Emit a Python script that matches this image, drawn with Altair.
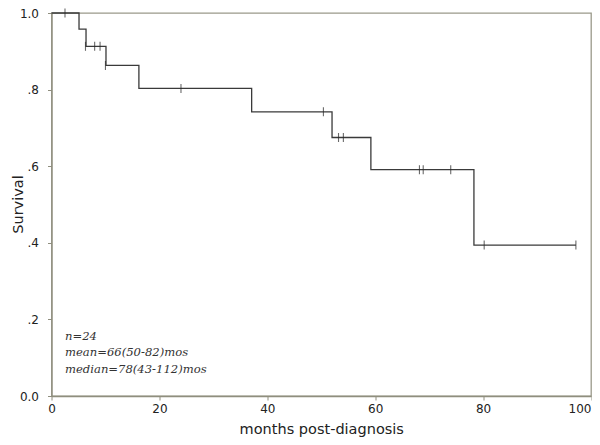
import altair as alt
import pandas as pd

# Kaplan-Meier step curve
step_time = [0, 5.1, 6.4, 10.1, 16.2, 37.1, 52.0, 59.2, 78.3, 97.2]
step_surv = [1.0, 0.958, 0.913, 0.863, 0.803, 0.742, 0.675, 0.591, 0.394, 0.394]

# Censored observations
cens_time = [2.5, 6.3, 8.0, 9.0, 10.0, 24.0, 50.4, 53.2, 54.1, 68.2, 68.9, 74.0, 80.2, 97.2]
cens_surv = [1.0, 0.913, 0.913, 0.913, 0.863, 0.803, 0.742, 0.675, 0.675, 0.591, 0.591, 0.591, 0.394, 0.394]

x_tick_values = [0, 20, 40, 60, 80, 100]
y_tick_labels = ["0.0", ".2", ".4", ".6", ".8", "1.0"]
annot_lines = ["n=24", "mean=66(50-82)mos", "median=78(43-112)mos"]
annot_y = [0.154, 0.111, 0.068]

curve_df = pd.DataFrame({"t": step_time, "s": step_surv})
cens_df = pd.DataFrame({"t": cens_time, "s": cens_surv})
annot_df = pd.DataFrame({"t": [2.5] * 3, "s": annot_y, "label": annot_lines})

label_expr = "[" + ",".join("'%s'" % l for l in y_tick_labels) + "][round(datum.value*5)]"

x_enc = alt.X("t:Q", scale=alt.Scale(domain=[0, 100], nice=False),
              axis=alt.Axis(title="months post-diagnosis", values=x_tick_values,
                            grid=False, tickSize=4, labelPadding=3,
                            labelAlign=alt.ExprRef(expr="datum.value == 100 ? 'right' : 'center'"),
                            titleY=37, titleBaseline="alphabetic",
                            labelFontSize=12, titleFontSize=14.5, titleFontWeight="normal"))
y_enc = alt.Y("s:Q", scale=alt.Scale(domain=[0, 1], nice=False),
              axis=alt.Axis(title="Survival", values=[0, 0.2, 0.4, 0.6, 0.8, 1.0],
                            labelExpr=label_expr, grid=False, tickSize=4, labelPadding=9,
                            titleX=-33, titleY=191, titleAngle=270, titleBaseline="middle",
                            titleAlign="center",
                            labelFontSize=12, titleFontSize=14.5,
                            titleFontWeight="normal"))

curve = alt.Chart(curve_df).mark_line(interpolate="step-after", color="#3a3a3a", strokeWidth=1.3).encode(
    x=x_enc, y=y_enc)

ticks = alt.Chart(cens_df).mark_tick(orient="vertical", size=9, thickness=1.1, color="#2a2a2a").encode(
    x="t:Q", y="s:Q")

annot = alt.Chart(annot_df).mark_text(align="left", baseline="middle", font="DejaVu Serif",
                                      fontStyle="italic", fontSize=11.6, color="#333333").encode(
    x="t:Q", y="s:Q", text="label:N")

chart = alt.layer(curve, ticks, annot).properties(
    width=539.5, height=383,
    autosize=alt.AutoSizeParams(type="none"),
    padding={"left": 43.5, "top": 5, "right": 1, "bottom": 41},
).configure_view(
    stroke="#9a998a", strokeWidth=1.3
).configure_axis(
    domainColor="#8f8e7e", tickColor="#8f8e7e", domainWidth=1.3,
    labelFont="DejaVu Sans", titleFont="DejaVu Sans",
    labelColor="#222222", titleColor="#222222"
)

chart.save("out.html", embed_options={"renderer": "svg", "actions": False})
